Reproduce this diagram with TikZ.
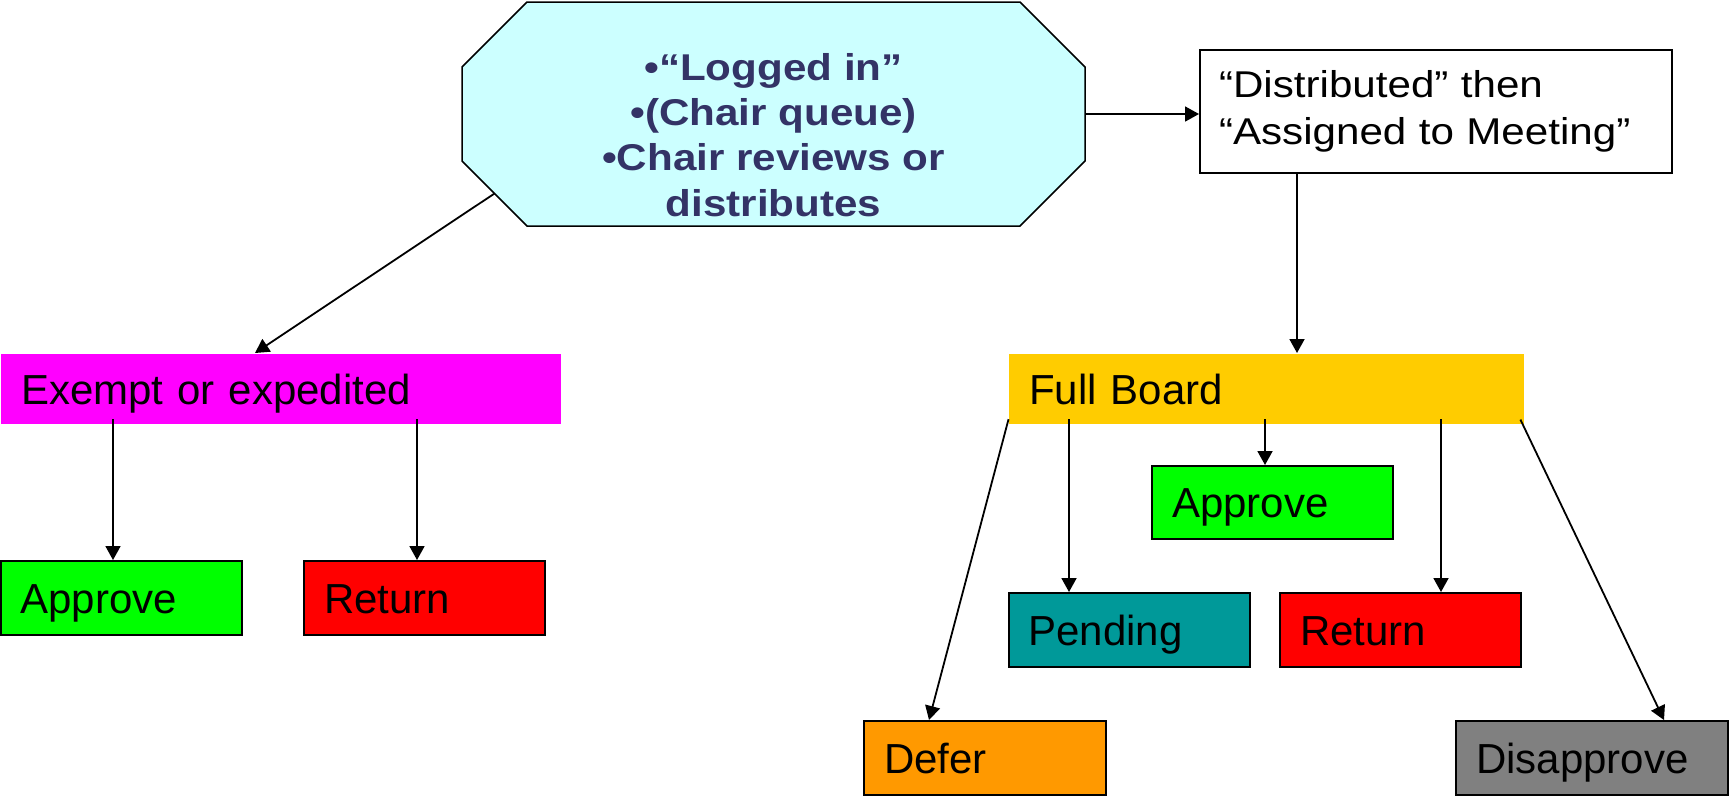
\documentclass[tikz,border=0pt]{standalone}
\usepackage{fontspec}
\setmainfont{Liberation Sans}
\newfontfamily\widefont{Liberation Sans}[FakeStretch=1.13]
\usepackage{tikz}
\usetikzlibrary{arrows.meta}
\tikzset{>={Triangle[length=14pt,width=15pt]}}
\usepackage{xcolor}
\definecolor{octfill}{HTML}{CCFFFF}
\definecolor{octtext}{HTML}{333366}
\definecolor{exmagenta}{HTML}{FF00FF}
\definecolor{boardyellow}{HTML}{FFCC00}
\definecolor{okgreen}{HTML}{00FF00}
\definecolor{backred}{HTML}{FF0000}
\definecolor{pendteal}{HTML}{009999}
\definecolor{deferorange}{HTML}{FF9900}
\definecolor{nogray}{HTML}{808080}

\begin{document}
\begin{tikzpicture}[x=1pt, y=-1pt,
    link/.style={->, line width=1.8pt},
    outof/.style={shorten <=-6pt},
    decision/.style={draw, line width=2pt, minimum width=241pt, minimum height=74pt,
      text width=201pt, inner xsep=20pt, align=left, text height=30pt, text depth=0pt,
      font=\fontsize{42}{48}\selectfont},
    band/.style={decision, draw=none, minimum height=70pt}]
	\useasboundingbox (0,0) rectangle (1729,796);

	% the octagon with the chair's queue
	\draw [fill=octfill, line width=1.5pt] (527,2) -- (1020,2) -- (1085,67)
		-- (1085,161) coordinate[pos=.5] (login east) -- (1020,226) -- (527,226)
		-- (462,161) coordinate[pos=.5] (login sw) -- (462,67) -- cycle;
	\node (login) at (773.5,135) [inner sep=0pt, align=center, text=octtext,
		font=\widefont\bfseries\fontsize{37.3}{45.3}\selectfont]
		{•“Logged in”\\•(Chair queue)\\•Chair reviews or\\distributes};

	\node (dist) at (1436,111.5) [draw, line width=2pt, fill=white, minimum width=472pt,
		minimum height=123pt, text width=434pt, inner xsep=19pt, align=left,
		font=\widefont\fontsize{37.3}{46.5}\selectfont]
		{“Distributed” then\\“Assigned to Meeting”};

	% left branch
	\node (exempt) at (281,389) [band, fill=exmagenta, text width=520pt] {Exempt or expedited};
	\node (apprL) at (121,598) [decision, fill=okgreen] {Approve};
	\node (retL) at (424.5,598) [decision, fill=backred] {Return};

	% right branch
	\node (board) at (1266.5,389) [band, fill=boardyellow, text width=475pt] {Full Board};
	\node (apprM) at (1272.5,502.5) [decision, fill=okgreen, minimum height=73pt] {Approve};
	\node (pend) at (1129,630) [decision, fill=pendteal] {Pending};
	\node (retR) at (1400.5,630) [decision, fill=backred] {Return};
	\node (defer) at (985,758) [decision, fill=deferorange, text width=202pt] {Defer};
	\node (disap) at (1592,758) [decision, fill=nogray, text width=232pt] {Disapprove};

	\draw [link] (login east) -- (login east -| dist.west);
	\draw [link] (login sw) -- ([xshift=-26pt]exempt.north);
	\draw [link] ([xshift=30.5pt]board.north |- dist.south) -- ([xshift=30.5pt]board.north);

	\draw [link, outof] ([xshift=-8pt]apprL.north |- exempt.south) -- ([xshift=-8pt]apprL.north);
	\draw [link, outof] ([xshift=-7.5pt]retL.north |- exempt.south) -- ([xshift=-7.5pt]retL.north);

	\draw [link, outof] ([xshift=-1pt]board.south west) -- ([xshift=-56pt]defer.north);
	\draw [link, outof] ([xshift=-60pt]pend.north |- board.south) -- ([xshift=-60pt]pend.north);
	\draw [link, outof] ([xshift=-7.5pt]apprM.north |- board.south) -- ([xshift=-7.5pt]apprM.north);
	\draw [link, outof] ([xshift=40.5pt]retR.north |- board.south) -- ([xshift=40.5pt]retR.north);
	\draw [link, outof] ([xshift=-2pt]board.south east) -- ([xshift=72pt]disap.north);
\end{tikzpicture}
\end{document}
